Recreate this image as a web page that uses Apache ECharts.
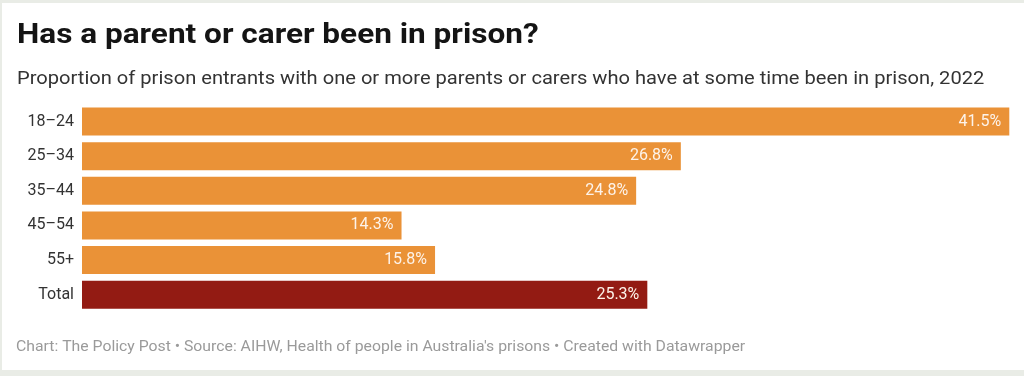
<!DOCTYPE html>
<html>
<head>
<meta charset="utf-8">
<script src="https://cdn.jsdelivr.net/npm/echarts@6/dist/echarts.min.js"></script>
<style>
html,body{margin:0;padding:0;background:#e9ece6;}
#chart{width:1024px;height:376px;}
</style>
</head>
<body>
<div id="chart"></div>
<script>
const categories = ['18–24', '25–34', '35–44', '45–54', '55+', 'Total'];
const values = [41.5, 26.8, 24.8, 14.3, 15.8, 25.3];
const barColors = ['#ea9237', '#ea9237', '#ea9237', '#ea9237', '#ea9237', '#931b13'];
const titleText = 'Has a parent or carer been in prison?';
const subtitleText = 'Proportion of prison entrants with one or more parents or carers who have at some time been in prison, 2022';
const footerText = 'Chart: The Policy Post • Source: AIHW, Health of people in Australia\'s prisons • Created with Datawrapper';

const chart = echarts.init(document.getElementById('chart'), null, {renderer: 'canvas'});
const FONT = 'Roboto, "Noto Sans", sans-serif';
chart.setOption({
  backgroundColor: '#e9ece6',
  animation: false,
  graphic: [
    {type: 'rect', z: -10, shape: {x: 2, y: 3, width: 1022, height: 367}, style: {fill: '#ffffff'}},
    {type: 'text', x: 17, y: 36, scaleX: 1.127, style: {text: titleText, fontFamily: FONT, fontWeight: 'bold', fontSize: 28, fill: '#141414', verticalAlign: 'middle'}},
    {type: 'text', x: 17, y: 79.5, scaleX: 1.087, style: {text: subtitleText, fontFamily: FONT, fontSize: 18.5, fill: '#333333', verticalAlign: 'middle'}},
    {type: 'text', x: 16, y: 347, scaleX: 1.088, style: {text: footerText, fontFamily: FONT, fontSize: 14.5, fill: '#9a9a9a', verticalAlign: 'middle'}}
  ],
  grid: {left: 82, right: 14.7, top: 104.2, bottom: 64, containLabel: false},
  xAxis: {type: 'value', min: 0, max: 41.5, show: false},
  yAxis: {
    type: 'category', data: categories, inverse: true,
    axisLine: {show: false}, axisTick: {show: false}, splitLine: {show: false},
    axisLabel: {color: '#333333', fontSize: 16, fontFamily: FONT, margin: 8}
  },
  series: [{
    type: 'bar',
    data: values.map((v, i) => ({value: v, itemStyle: {color: barColors[i]}})),
    barWidth: 28,
    label: {
      show: true, position: 'insideRight', distance: 8,
      formatter: p => p.value.toFixed(1) + '%',
      color: '#fdf3ea', fontSize: 16, fontFamily: FONT
    }
  }]
});
</script>
</body>
</html>
